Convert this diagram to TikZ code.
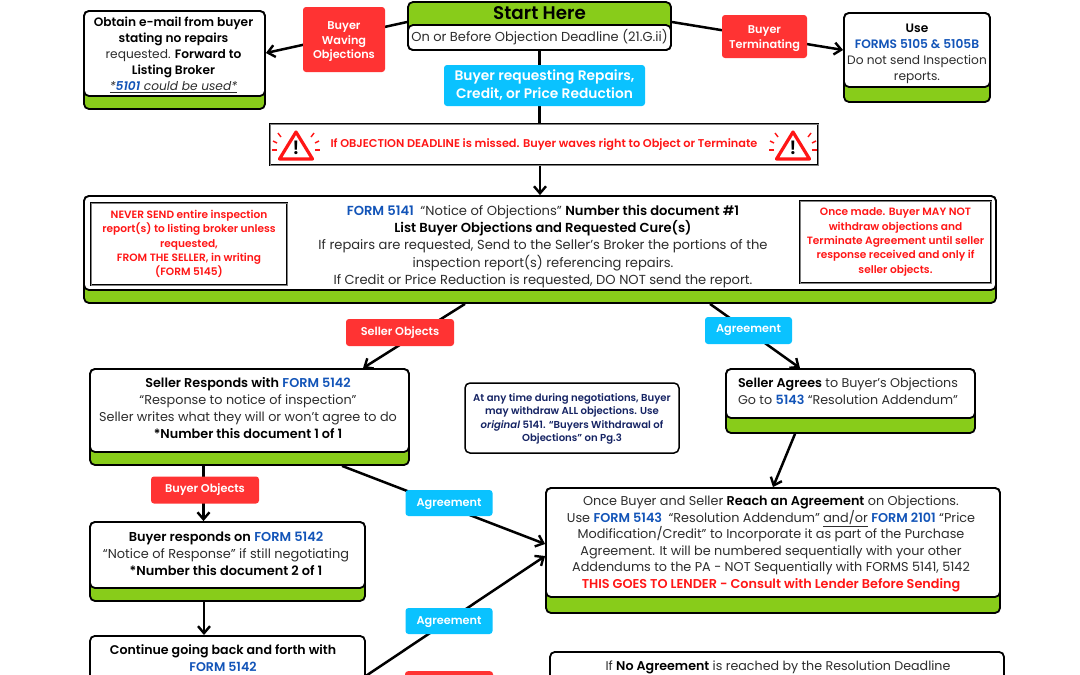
\documentclass[tikz,border=0pt]{standalone}
\usepackage{fontspec}
\setmainfont{Poppins}[BoldFont={Poppins SemiBold},BoldItalicFont={Poppins SemiBold Italic}]
\usetikzlibrary{arrows.meta}
\definecolor{cardgreen}{RGB}{136,204,26}
\definecolor{tagred}{RGB}{255,51,51}
\definecolor{tagblue}{RGB}{10,194,255}
\definecolor{formblue}{RGB}{18,84,184}
\definecolor{warnred}{RGB}{255,22,22}
\definecolor{notenavy}{RGB}{22,36,100}
\definecolor{bodygrey}{RGB}{45,45,45}
\newcommand{\frm}[1]{\textcolor{formblue}{\textbf{#1}}}
\newcommand{\bd}[1]{\textcolor{black}{\textbf{#1}}}
% name, left, top, right, bottom of white part, bottom of green part, text position, font size, text
\newcommand{\card}[9]{
  \node[cardback,minimum width=#4-#2,minimum height=#6-#3] (#1) at ({(#2+#4)/2},{(#3+#6)/2}) {};
  \node[cardface,minimum width=#4-#2,minimum height=#5-#3] (#1face) at ({(#2+#4)/2},{(#3+#5)/2}) {};
  \node[cardtext,font=\fontsize#8\selectfont] (#1text) at #7 {#9};
}
% name, x of centre
\newcommand{\warnsign}[2]{
  \draw[warnred,line width=3.2pt,line join=round] (#2,132) -- (#2+16.5,159) -- (#2-16.5,159) -- cycle;
  \node[inner sep=0pt,font=\fontsize{19}{19}\bfseries\selectfont] (#1) at (#2,148) {!};
  \foreach \side in {-1,1} {
    \draw[warnred,line width=1.4pt] (#2+\side*15,137) -- (#2+\side*18,133);
    \draw[warnred,line width=1.4pt] (#2+\side*19,143) -- (#2+\side*23,141);
    \draw[warnred,line width=1.4pt] (#2+\side*19,150) -- (#2+\side*24,150);
  }
}

\begin{document}
\begin{tikzpicture}[x=1pt,y=-1pt]

%
% Styles
%
\tikzset{
  cardback/.style={rectangle,rounded corners=5pt,draw=black,fill=cardgreen,line width=1.8pt,inner sep=0pt},
  cardface/.style={rectangle,rounded corners=5pt,draw=black,fill=white,line width=1.8pt,inner sep=0pt},
  cardtext/.style={inner sep=0pt,align=center,text=bodygrey},
  tag/.style={rectangle,rounded corners=3pt,inner sep=0pt,align=center,text=white,
    font=\fontsize{11.3}{14.5}\bfseries\selectfont},
  redtag/.style={tag,fill=tagred},
  bluetag/.style={tag,fill=tagblue},
  warnbox/.style={rectangle,draw=black,line width=1pt,double=black!50,double distance=.9pt,fill=white,inner sep=0pt,
    align=center,text=warnred,font=\fontsize{10.6}{14.4}\bfseries\selectfont},
  notebox/.style={rectangle,rounded corners=5pt,draw=black,fill=white,line width=1.5pt,inner sep=0pt,
    align=center,text=notenavy,font=\fontsize{10.1}{13.3}\bfseries\selectfont},
  link/.style={line width=2.5pt,draw=black},
  arrow/.style={link,-{Straight Barb[length=7pt,width=12pt,line width=2.4pt]}}
}

\useasboundingbox (0,0) rectangle (1080,675);
\clip (0,0) rectangle (1080,675);

\fill[white] (0,0) rectangle (1080,675);

% Cards
\node[cardback,minimum width=263,minimum height=48] (start) at (539.5,26) {};
\node[cardface,minimum width=263,minimum height=25] (startface) at (539.5,37.5) {};
\node[cardtext,font=\fontsize{13}{17}\selectfont] (starttext) at (539.5,37.5) {On or Before Objection Deadline (21.G.ii)};
\node[inner sep=0pt,font=\fontsize{18.3}{18.3}\bfseries\selectfont] (starttitle) at (539.5,13) {Start Here};

\card{obtain}{84}{11}{265}{96}{109}{(173.5,55)}{{12.2}{16}}{\bd{Obtain e-mail from buyer}\\\bd{stating no repairs}\\requested. \bd{Forward to}\\\bd{Listing Broker}\\\underline{\textit{*\frm{\textit{5101}} could be used*}}}
\card{use}{844}{13}{990}{87}{102}{(917,54)}{{12.2}{16}}{\bd{Use}\\\frm{FORMS 5105 \& 5105B}\\Do not send Inspection\\reports.}
\card{form}{84}{196}{996}{290}{303}{(543,246.5)}{{13.1}{17.2}}{\frm{FORM 5141}\enspace“Notice of Objections” \bd{Number this document \#1}\\\bd{List Buyer Objections and Requested Cure(s)}\\If repairs are requested, Send to the Seller’s Broker the portions of the\\inspection report(s) referencing repairs.\\If Credit or Price Reduction is requested, DO NOT send the report.}
\card{seller}{90}{369}{409}{452}{465}{(248,408)}{{12.8}{16.8}}{\bd{Seller Responds with} \frm{FORM 5142}\\“Response to notice of inspection”\\Seller writes what they will or won’t agree to do\\\bd{*Number this document 1 of 1}}
\card{agrees}{726}{369}{975}{418}{433}{(848,391.5)}{{12.7}{16.8}}{\bd{Seller Agrees} to Buyer’s Objections\\Go to \frm{5143} “Resolution Addendum”}
\card{responds}{90}{522}{365}{588}{601}{(226,554)}{{12.9}{16.8}}{\bd{Buyer responds on} \frm{FORM 5142}\\“Notice of Response” if still negotiating\\\bd{*Number this document 2 of 1}}
\card{once}{546}{488}{1000}{597}{613}{(771,544)}{{12.8}{16.5}}{Once Buyer and Seller \bd{Reach an Agreement} on Objections.\\Use \frm{FORM 5143}\enspace“Resolution Addendum” \underline{and/or} \frm{FORM 2101} “Price\\Modification/Credit” to Incorporate it as part of the Purchase\\Agreement. It will be numbered sequentially with your other\\Addendums to the PA - NOT Sequentially with FORMS 5141, 5142\\\textcolor{warnred}{\textbf{THIS GOES TO LENDER - Consult with Lender Before Sending}}}

% Cards that run off the page
\node[cardface,minimum width=275,minimum height=110,anchor=north] (continue) at (227.5,635) {};
\node[cardtext,text=black,font=\fontsize{12.6}{16.7}\selectfont] (continuetext) at (223,658) {\textbf{Continue going back and forth with}\\\frm{FORM 5142}};
\node[cardface,minimum width=454,minimum height=110,anchor=north] (none) at (777,651) {};
\node[cardtext,font=\fontsize{12.66}{16.7}\selectfont] (nonetext) at (778,667) {If \bd{No Agreement} is reached by the Resolution Deadline};

\node[warnbox,minimum width=548,minimum height=41,font=\fontsize{11.3}{14.4}\bfseries\selectfont] (warn) at (544,144.5) {If OBJECTION DEADLINE is missed. Buyer waves right to Object or Terminate};
\warnsign{warnleft}{296}
\warnsign{warnright}{793}

\node[warnbox,minimum width=196,minimum height=82] (never) at (189,244) {NEVER SEND entire inspection\\report(s) to listing broker unless\\requested,\\FROM THE SELLER, in writing\\(FORM 5145)};
\node[warnbox,minimum width=191,minimum height=82] (made) at (895.5,242) {Once made. Buyer MAY NOT\\withdraw objections and\\Terminate Agreement until seller\\response received and only if\\seller objects.};

\node[notebox,minimum width=214,minimum height=70] (anytime) at (572,418) {\rule{0pt}{10pt}At any time during negotiations, Buyer\\may withdraw ALL objections. Use\\\textit{original} 5141. “Buyers Withdrawal of\\Objections” on Pg.3};

% Connectors
\draw[arrow] ([yshift=4pt]start.west) -- ([yshift=7pt]obtain.east);
\draw[arrow] ([yshift=4pt]start.east) -- ([yshift=7.5pt]use.west);
\draw[link] (start.south) -- (start.south |- warn.north);
\draw[arrow] (form.north |- warn.south) -- (form.north);
\draw[arrow] ([xshift=-75pt]form.south) -- ([xshift=113.5pt]seller.north);
\draw[arrow] ([xshift=170pt]form.south) -- ([xshift=-50.5pt]agrees.north);
\draw[arrow] ([xshift=-46pt]seller.south) -- ([xshift=-24pt]responds.north);
\draw[arrow] ([xshift=92.5pt]seller.south) -- ([yshift=6.5pt]once.west);
\draw[arrow] ([xshift=-23.5pt]responds.south) -- ([xshift=-23.5pt]continue.north);
\draw[arrow] ([yshift=15pt]continue.east) -- ([yshift=-5.5pt]once.west);
\draw[arrow] ([xshift=-55.5pt]agrees.south) -- (once.north);

% Tags
\node[redtag,minimum width=82,minimum height=65] (waving) at (344,39.5) {\rule{0pt}{12pt}Buyer\\Waving\\Objections};
\node[redtag,minimum width=85,minimum height=43] (terminating) at (764.5,36.5) {\rule{0pt}{12pt}Buyer\\Terminating};
\node[bluetag,minimum width=201,minimum height=41,font=\fontsize{13.8}{18}\bfseries\selectfont] (requesting) at (544.5,85.5) {Buyer requesting Repairs,\\Credit, or Price Reduction};
\node[redtag,minimum width=108,minimum height=27] (sellerobj) at (400,332.5) {Seller Objects};
\node[bluetag,minimum width=87,minimum height=27] (agreeone) at (748.5,330.5) {Agreement};
\node[redtag,minimum width=108,minimum height=27] (buyerobj) at (205,490) {Buyer Objects};
\node[bluetag,minimum width=87,minimum height=26] (agreetwo) at (449,503) {\rule{0pt}{10pt}Agreement};
\node[bluetag,minimum width=87,minimum height=26] (agreethree) at (449,621) {\rule{0pt}{10pt}Agreement};
\node[redtag,minimum width=88,minimum height=26,anchor=north] (lasttag) at (449,671) {};

\end{tikzpicture}
\end{document}
